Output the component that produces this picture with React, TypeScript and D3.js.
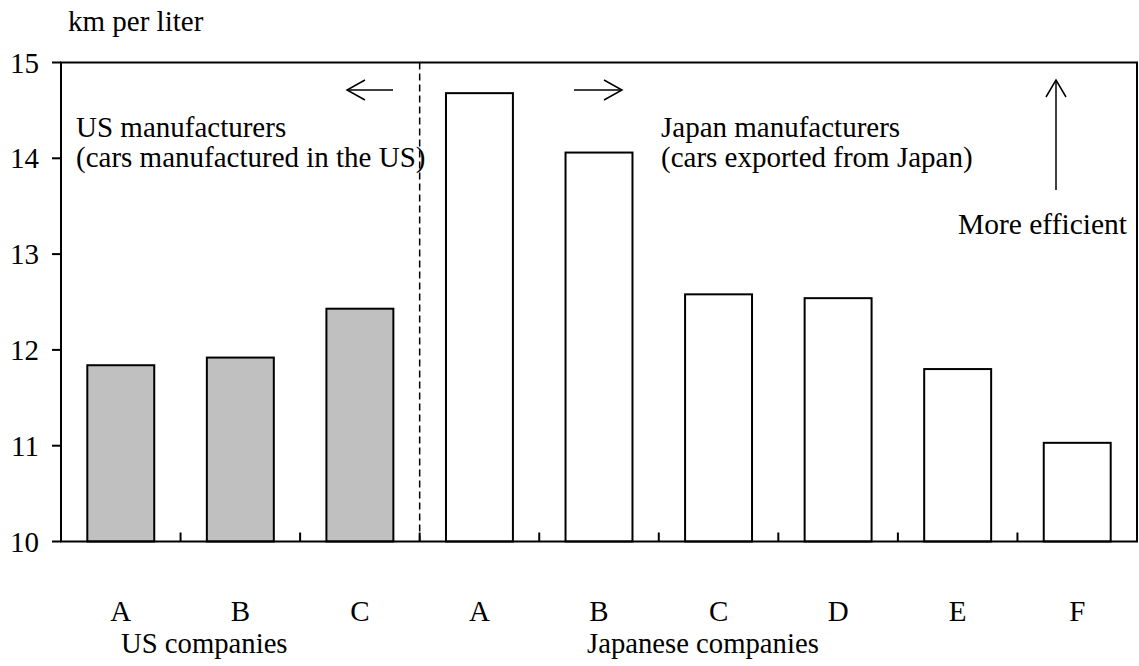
import React from "react";
import * as d3 from "d3";

const usCompanies = ["A", "B", "C"];
const usValues = [11.84, 11.92, 12.43];
const jpCompanies = ["A", "B", "C", "D", "E", "F"];
const jpValues = [14.68, 14.06, 12.58, 12.54, 11.8, 11.03];
const yTicks = [10, 11, 12, 13, 14, 15];

const W = 1139;
const H = 666;
const M = { left: 61, right: 1137, top: 62.5, bottom: 541.5 };
const FONT = "'Liberation Serif', 'Times New Roman', serif";
const FS = 29;

type Bar = { id: string; label: string; value: number; group: "US" | "JP" };

const bars: Bar[] = [
  ...usCompanies.map((c, i) => ({ id: "US-" + c, label: c, value: usValues[i], group: "US" as const })),
  ...jpCompanies.map((c, i) => ({ id: "JP-" + c, label: c, value: jpValues[i], group: "JP" as const })),
];

export default function App() {
  const x = d3
    .scaleBand<string>()
    .domain(bars.map((b) => b.id))
    .range([M.left, M.right])
    .paddingInner(0.44)
    .paddingOuter(0.22);
  const y = d3.scaleLinear().domain([10, 15]).range([M.bottom, M.top]);
  const step = x.step();
  const boundaries = d3.range(1, bars.length).map((i) => M.left + i * step);
  const divider = M.left + usCompanies.length * step;

  return (
    <svg
      width={W}
      height={H}
      style={{ position: "absolute", left: 0, top: 0, background: "#fff" }}
      fontFamily={FONT}
    >
      <text x={68} y={31} fontSize={FS}>km per liter</text>

      {bars.map((b) => (
        <rect
          key={b.id}
          x={x(b.id)}
          y={y(b.value)}
          width={x.bandwidth()}
          height={y(10) - y(b.value)}
          fill={b.group === "US" ? "#c0c0c0" : "#ffffff"}
          stroke="#000"
          strokeWidth={2}
        />
      ))}

      <rect
        x={M.left}
        y={M.top}
        width={M.right - M.left}
        height={M.bottom - M.top}
        fill="none"
        stroke="#000"
        strokeWidth={2}
      />

      {yTicks.map((t) => (
        <g key={t}>
          <line x1={M.left - 9} x2={M.left} y1={y(t)} y2={y(t)} stroke="#000" strokeWidth={2} />
          <text x={M.left - 22} y={y(t)} dy="0.35em" textAnchor="end" fontSize={FS}>
            {t}
          </text>
        </g>
      ))}

      {boundaries.map((bx, i) => (
        <line key={i} x1={bx} x2={bx} y1={M.bottom - 9} y2={M.bottom} stroke="#000" strokeWidth={2} />
      ))}

      {bars.map((b) => (
        <text
          key={b.id + "-l"}
          x={(x(b.id) as number) + x.bandwidth() / 2}
          y={621}
          textAnchor="middle"
          fontSize={FS}
        >
          {b.label}
        </text>
      ))}

      <line x1={divider} x2={divider} y1={M.top} y2={M.bottom} stroke="#000" strokeWidth={1.5} strokeDasharray="7,4" />

      <text x={121} y={653} fontSize={FS - 0.3}>US companies</text>
      <text x={587} y={653} fontSize={FS - 0.3}>Japanese companies</text>

      <text x={76} y={137} fontSize={FS}>US manufacturers</text>
      <text x={76} y={167} fontSize={FS}>(cars manufactured in the US)</text>
      <text x={661} y={137} fontSize={FS}>Japan manufacturers</text>
      <text x={661} y={167} fontSize={FS}>(cars exported from Japan)</text>
      <text x={1127} y={234} textAnchor="end" fontSize={FS + 0.5}>More efficient</text>

      <g stroke="#000" strokeWidth={1.5} fill="none">
        <line x1={347} x2={393} y1={90} y2={90} />
        <polyline points="365,80 347,90 365,100" />
        <line x1={574} x2={622} y1={90} y2={90} />
        <polyline points="604,80 622,90 604,100" />
        <line x1={1056} x2={1056} y1={80} y2={190} />
        <polyline points="1046,97 1056,80 1066,97" />
      </g>
    </svg>
  );
}
